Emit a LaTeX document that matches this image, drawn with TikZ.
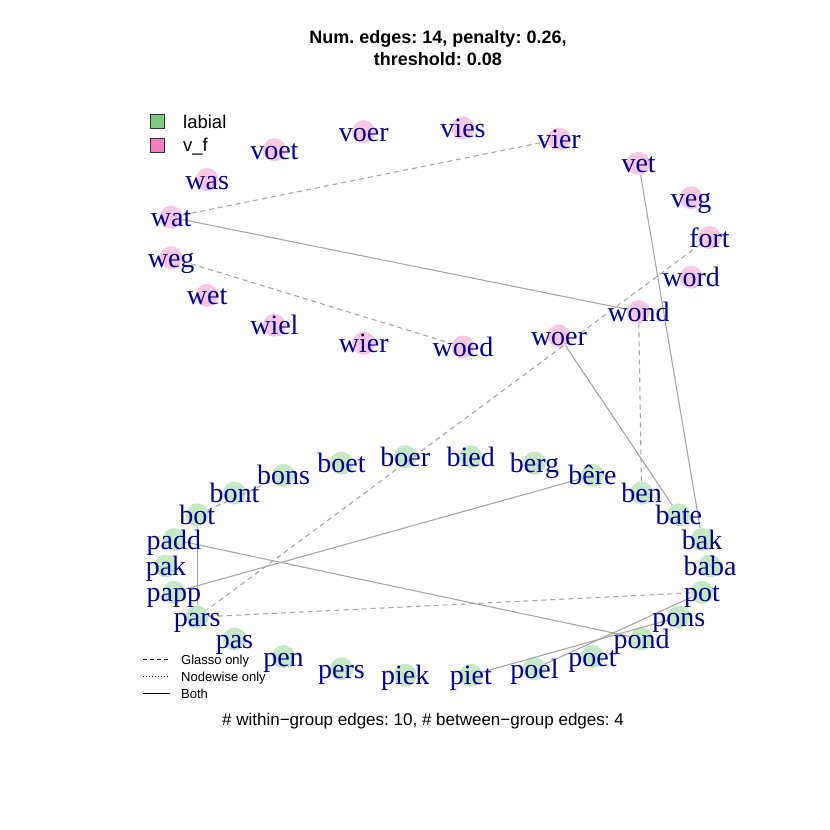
\documentclass[tikz,border=0pt]{standalone}
\usepackage{fontspec}
\setmainfont{Liberation Serif}
\setsansfont{Liberation Sans}
\frenchspacing
\definecolor{labfill}{RGB}{197,232,197}
\definecolor{vffill}{RGB}{250,200,227}
\definecolor{labkey}{RGB}{127,201,127}
\definecolor{vfkey}{RGB}{240,128,192}
\definecolor{lblcol}{RGB}{0,0,139}
\definecolor{edgecol}{RGB}{166,166,166}
\begin{document}
\begin{tikzpicture}[x=1pt,y=-1pt,
  vfnode/.style={circle, fill=vffill, minimum size=23pt, inner sep=0pt},
  labnode/.style={circle, fill=labfill, minimum size=23pt, inner sep=0pt},
  lbltext/.style={text=lblcol, font=\fontsize{28}{28}\selectfont, anchor=base, inner sep=0pt},
  edgeline/.style={draw=edgecol, line width=1.1pt},
  glasso/.style={edgeline, dash pattern=on 5pt off 4pt},
  keyline/.style={draw=black, line width=0.9pt},
  keytext/.style={font=\sffamily\fontsize{13}{13}\selectfont, anchor=base west, inner sep=0pt},
  grouptext/.style={font=\sffamily\fontsize{18.5}{18.5}\selectfont, anchor=base west, inner sep=0pt},
  keybox/.style={draw=black!80, line width=0.8pt, minimum size=14pt, inner sep=0pt}
]
\useasboundingbox (0,0) rectangle (830,830);
\def\topnames{fort/fort,veg/veg,vet/vet,vier/vier,vies/vies,voer/voer,voet/voet,was/was,wat/wat,weg/weg,wet/wet,wiel/wiel,wier/wier,woed/woed,woer/woer,wond/wond,word/word}
\def\botnames{baba/baba,bak/bak,bate/bate,ben/ben,bere/bêre,berg/berg,bied/bied,boer/boer,boet/boet,bons/bons,bont/bont,bot/bot,padd/padd,pak/pak,papp/papp,pars/pars,pas/pas,pen/pen,pers/pers,piek/piek,piet/piet,poel/poel,poet/poet,pond/pond,pons/pons,pot/pot}
% circles
\foreach \n/\t [count=\i from 0] in \topnames {
  \pgfmathsetmacro\ang{\i*360/17}
  \node[vfnode] (\n) at ({438+271.5*cos(\ang)},{237.5-110*sin(\ang)}) {};
}
\foreach \n/\t [count=\i from 0] in \botnames {
  \pgfmathsetmacro\ang{\i*360/26}
  \node[labnode] (\n) at ({438+272*cos(\ang)},{566-110*sin(\ang)}) {};
}
% edges
\draw[glasso] (wat) -- (vier);
\draw[edgeline] (wat) -- (wond);
\draw[glasso] (weg) -- (woed);
\draw[edgeline] (vet) -- (bak);
\draw[glasso] (fort) -- (pars);
\draw[glasso] (wond) -- (ben);
\draw[edgeline] (woer) -- (bate);
\draw[glasso] (bot) -- (bons);
\draw[edgeline] (bot) -- (pars);
\draw[edgeline] (padd) -- (pond);
\draw[edgeline] (papp) -- (bere);
\draw[glasso] (pars) -- (pot);
\draw[edgeline] (piet) -- (pons);
\draw[edgeline] (poel) -- (pot);
% labels
\foreach \n/\t in \topnames {
  \path (\n) ++(0,9.5) node[lbltext] (\n-l) {\t};
}
\foreach \n/\t in \botnames {
  \path (\n) ++(0,9.5) node[lbltext] (\n-l) {\t};
}
% title
\node[font=\sffamily\bfseries\fontsize{18}{18}\selectfont, anchor=base, inner sep=0pt] (title1) at (438,43) {Num. edges: 14, penalty: 0.26,};
\node[font=\sffamily\bfseries\fontsize{18}{18}\selectfont, anchor=base, inner sep=0pt] (title2) at (438,65) {threshold: 0.08};
% group legend
\node[keybox, fill=labkey] (key1) at (157.5,121) {};
\node[grouptext] (key1t) at (183,128) {labial};
\node[keybox, fill=vfkey] (key2) at (157.5,145) {};
\node[grouptext] (key2t) at (183,151) {v\_f};
% edge legend
\coordinate (g1) at (143,659); \coordinate (g2) at (170,659);
\coordinate (n1) at (143,676); \coordinate (n2) at (170,676);
\coordinate (b1) at (143,693); \coordinate (b2) at (170,693);
\draw[keyline, dash pattern=on 4pt off 3pt] (g1) -- (g2);
\draw[keyline, dash pattern=on 1pt off 2pt] (n1) -- (n2);
\draw[keyline] (b1) -- (b2);
\node[keytext] (gt) at (181,664) {Glasso only};
\node[keytext] (nt) at (181,681) {Nodewise only};
\node[keytext] (bt) at (181,698) {Both};
% bottom text
\node[font=\sffamily\fontsize{17}{17}\selectfont, anchor=base, inner sep=0pt] (sub) at (423,725) {\# within−group edges: 10, \# between−group edges: 4};
\end{tikzpicture}
\end{document}
